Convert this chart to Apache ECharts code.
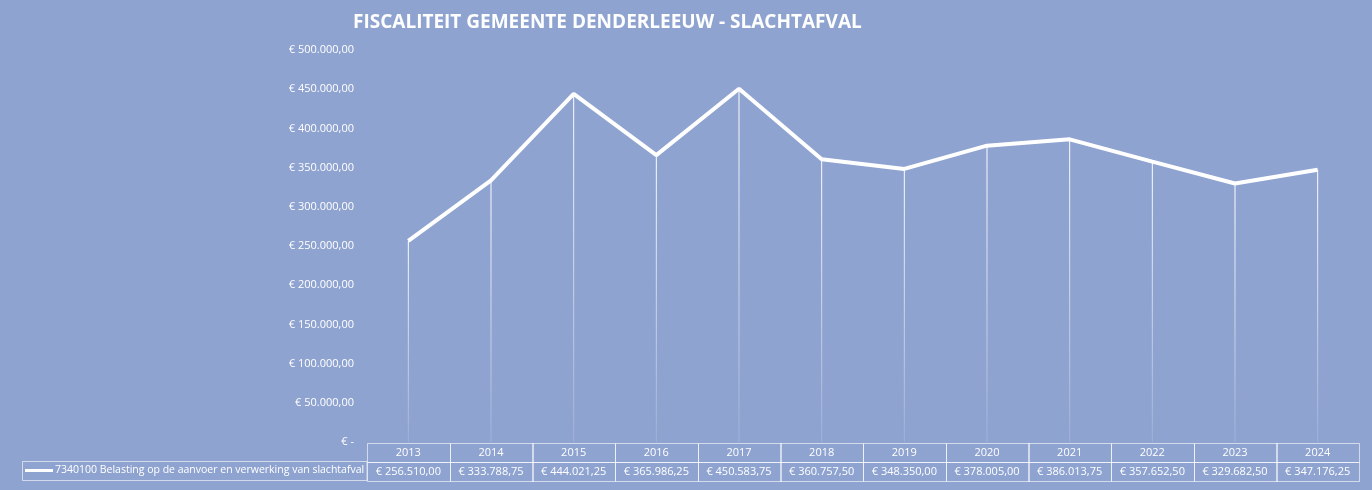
<!DOCTYPE html>
<html><head><meta charset="utf-8">
<script src="https://cdn.jsdelivr.net/npm/echarts@6/dist/echarts.min.js"></script>
<style>html,body{margin:0;padding:0;background:#8fa3d0;}#c{width:1372px;height:490px;}</style>
</head><body><div id="c"></div>
<script>
const years = ['2013','2014','2015','2016','2017','2018','2019','2020','2021','2022','2023','2024'];
const values = [256510.00, 333788.75, 444021.25, 365986.25, 450583.75, 360757.50, 348350.00, 378005.00, 386013.75, 357652.50, 329682.50, 347176.25];
const seriesName = '7340100 Belasting op de aanvoer en verwerking van slachtafval';
const titleText = 'FISCALITEIT GEMEENTE DENDERLEEUW - SLACHTAFVAL';

function eur(v){
  if (v === 0) return '€ -';
  const parts = v.toFixed(2).split('.');
  const intp = parts[0].replace(/\B(?=(\d{3})+(?!\d))/g, '.');
  return '€ ' + intp + ',' + parts[1];
}

const tableData = [];
years.forEach((y,i)=>{ tableData.push([i,0,y]); tableData.push([i,1,eur(values[i])]); });

const font = 'Open Sans, Liberation Sans, sans-serif';
const chart = echarts.init(document.getElementById('c'));
chart.setOption({
  backgroundColor: '#8fa3d0',
  animation: false,
  title: { text: titleText, left: 348, top: 8,
    textStyle: { color:'#fff', fontSize: 19, fontWeight: 'bold', fontFamily: font } },
  legend: { data:[seriesName], left: 25, top: 465, padding: 0, icon: 'rect', itemWidth: 28, itemHeight: 3, itemGap: 2,
    textStyle: { color:'#fff', fontSize: 10.5, fontFamily: font, padding:[0,0,0,-3] } },
  graphic: [{ type:'rect', shape:{ x:22.5, y:461.5, width:344.5, height:19 }, style:{ fill:'none', stroke:'rgba(255,255,255,0.6)', lineWidth:1 } }],
  grid: [
    { left: 367, right: 13, top: 50, bottom: 48 },
    { left: 367, right: 13, top: 443, height: 37 }
  ],
  xAxis: [
    { type:'category', data: years, gridIndex:0, boundaryGap:true, axisLine:{show:false}, axisTick:{show:false}, axisLabel:{show:false} },
    { type:'category', data: years, gridIndex:1, boundaryGap:true, show:false }
  ],
  yAxis: [
    { type:'value', gridIndex:0, min:0, max:500000, interval:50000, splitLine:{show:false}, axisLine:{show:false}, axisTick:{show:false},
      axisLabel:{ color:'#fff', fontSize: 11, fontFamily: font, margin: 13, formatter: eur } },
    { type:'category', data:['y','v'], gridIndex:1, inverse:true, show:false }
  ],
  series: [
    { type:'bar', xAxisIndex:0, yAxisIndex:0, data: values, barWidth: 1, silent:true, z:1,
      itemStyle:{ color: new echarts.graphic.LinearGradient(0,0,0,1,[{offset:0,color:'rgba(255,255,255,1)'},{offset:1,color:'rgba(255,255,255,0.15)'}]) } },
    { type:'line', name: seriesName, xAxisIndex:0, yAxisIndex:0, data: values, symbol:'none', z:3,
      lineStyle:{ color:'#fff', width:4 }, itemStyle:{ color:'#fff' } },
    { type:'custom', xAxisIndex:1, yAxisIndex:1, data: tableData.map(d=>[d[0],d[1]]), silent:true,
      encode:{ x:0, y:1 },
      renderItem: function(params, api){
        const c = api.coord([api.value(0), api.value(1)]);
        const s = api.size([1,1]);
        const x = c[0]-s[0]/2, y = c[1]-s[1]/2;
        const txt = tableData[params.dataIndex][2];
        return { type:'group', children:[
          { type:'rect', shape:{ x: Math.round(x)+0.5, y: Math.round(y)+0.5, width: Math.round(s[0]), height: Math.round(s[1]) },
            style:{ fill:'none', stroke:'rgba(255,255,255,0.6)', lineWidth:1 } },
          { type:'text', style:{ text: txt, x: c[0], y: c[1]+1, align:'center', verticalAlign:'middle',
            fill:'#fff', fontSize: 11, fontFamily: font } }
        ]};
      } }
  ]
});
</script></body></html>
